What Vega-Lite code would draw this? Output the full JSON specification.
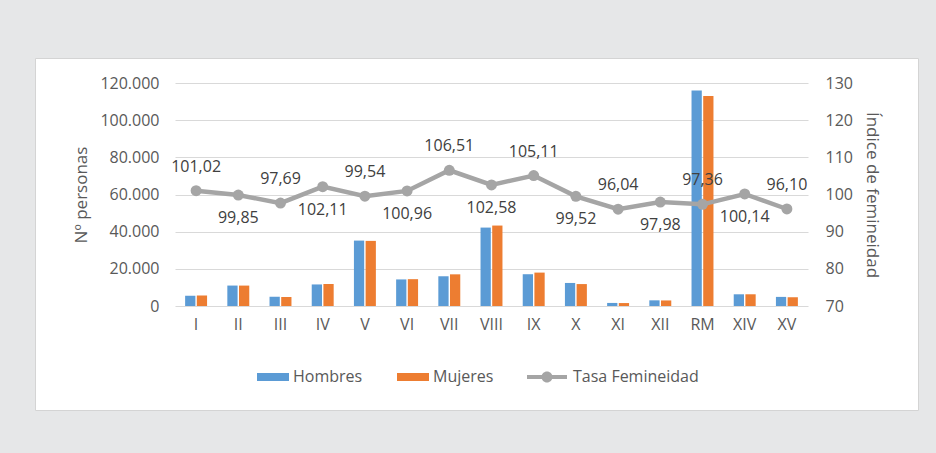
{
  "$schema": "https://vega.github.io/schema/vega-lite/v6.json",
  "width": 883,
  "height": 352,
  "autosize": {"type": "none"},
  "padding": {"left": 35, "top": 58, "right": 18, "bottom": 43},
  "background": "#e6e7e8",
  "config": {
    "locale": {"number": {"decimal": ",", "thousands": ".", "grouping": [3], "currency": ["", " €"]}},
    "view": {"fill": "white", "stroke": "#d4d4d4", "strokeWidth": 1},
    "font": "Open Sans",
    "axis": {
      "labelFont": "Open Sans", "labelFontSize": 16, "labelColor": "#595959",
      "titleFont": "Open Sans", "titleFontSize": 17, "titleFontWeight": "normal", "titleColor": "#595959",
      "ticks": false, "domain": false, "gridColor": "#d9d9d9", "gridWidth": 1
    },
    "legend": {"labelFont": "Open Sans", "labelFontSize": 16, "labelColor": "#595959"}
  },
  "data": {
    "values": [
      {"region": "I", "Hombres": 5550, "Mujeres": 5607, "tasa": 101.02},
      {"region": "II", "Hombres": 11000, "Mujeres": 10984, "tasa": 99.85},
      {"region": "III", "Hombres": 4950, "Mujeres": 4836, "tasa": 97.69},
      {"region": "IV", "Hombres": 11600, "Mujeres": 11845, "tasa": 102.11},
      {"region": "V", "Hombres": 35200, "Mujeres": 35038, "tasa": 99.54},
      {"region": "VI", "Hombres": 14300, "Mujeres": 14437, "tasa": 100.96},
      {"region": "VII", "Hombres": 16000, "Mujeres": 17042, "tasa": 106.51},
      {"region": "VIII", "Hombres": 42200, "Mujeres": 43289, "tasa": 102.58},
      {"region": "IX", "Hombres": 17100, "Mujeres": 17974, "tasa": 105.11},
      {"region": "X", "Hombres": 12400, "Mujeres": 11800, "tasa": 99.52},
      {"region": "XI", "Hombres": 1650, "Mujeres": 1585, "tasa": 96.04},
      {"region": "XII", "Hombres": 3050, "Mujeres": 2988, "tasa": 97.98},
      {"region": "RM", "Hombres": 116000, "Mujeres": 112938, "tasa": 97.36},
      {"region": "XIV", "Hombres": 6300, "Mujeres": 6309, "tasa": 100.14},
      {"region": "XV", "Hombres": 4900, "Mujeres": 4709, "tasa": 96.10}
    ]
  },
  "layer": [
    {
      "transform": [{"fold": ["Hombres", "Mujeres"], "as": ["sexo", "personas"]}],
      "mark": {"type": "bar"},
      "encoding": {
        "x": {
          "field": "region", "type": "nominal", "sort": null,
          "scale": {"range": [140, 773], "paddingInner": 0.48, "paddingOuter": 0.24},
          "axis": {"title": null, "labelAngle": 0, "offset": -104, "labelPadding": 10, "grid": false}
        },
        "xOffset": {"field": "sexo", "type": "nominal", "scale": {"paddingInner": 0.12}},
        "y": {
          "field": "personas", "type": "quantitative",
          "scale": {"domain": [0, 120000], "range": [248, 25], "nice": false},
          "axis": {
            "title": "Nº personas", "format": ",.0f",
            "values": [0, 20000, 40000, 60000, 80000, 100000, 120000],
            "offset": -140, "labelPadding": 16, "titlePadding": 9, "grid": true
          }
        },
        "color": {
          "field": "sexo", "type": "nominal",
          "scale": {"domain": ["Hombres", "Mujeres"], "range": ["#5b9bd5", "#ed7d31"]},
          "legend": {
            "title": null, "orient": "none", "legendX": 228, "legendY": 309,
            "direction": "horizontal",
            "symbolType": "M-1.6,-0.4H1.6V0.4H-1.6Z", "symbolSize": 400,
            "symbolStrokeWidth": 0, "labelOffset": 10, "columnPadding": 34
          }
        }
      }
    },
    {
      "layer": [
        {
          "mark": {"type": "line", "strokeWidth": 4.5},
          "encoding": {
            "x": {"field": "region", "type": "nominal", "sort": null},
            "y": {
              "field": "tasa", "type": "quantitative",
              "scale": {"domain": [70, 130], "range": [248, 25], "nice": false, "zero": false},
              "axis": {
                "orient": "right", "title": "Índice de femineidad",
                "values": [70, 80, 90, 100, 110, 120, 130], "format": "d",
                "offset": -110, "labelPadding": 17, "titlePadding": 10, "grid": false
              }
            },
            "stroke": {
              "datum": "Tasa Femineidad", "type": "nominal",
              "scale": {"range": ["#a5a5a5"]},
              "legend": {
                "title": null, "orient": "none", "legendX": 502, "legendY": 309,
                "symbolType": "M-2,-0.2H2V0.2H-2Z M-0.55,0A0.55,0.55 0 1,1 0.55,0A0.55,0.55 0 1,1 -0.55,0Z",
                "symbolSize": 400, "symbolFillColor": "#a5a5a5", "symbolStrokeWidth": 0,
                "labelOffset": 16,
                "encode": {"symbols": {"update": {"fill": {"value": "#a5a5a5"}, "strokeWidth": {"value": 0}}}}
              }
            }
          }
        },
        {
          "mark": {"type": "point", "filled": true, "size": 120, "opacity": 1, "color": "#a5a5a5"},
          "encoding": {
            "x": {"field": "region", "type": "nominal", "sort": null},
            "y": {"field": "tasa", "type": "quantitative"}
          }
        },
        {
          "transform": [{"filter": {"field": "region", "oneOf": ["I", "III", "V", "VII", "IX", "XI", "RM", "XV"]}}],
          "mark": {"type": "text", "dy": -24, "fontSize": 16, "color": "#404040", "font": "Open Sans"},
          "encoding": {
            "x": {"field": "region", "type": "nominal", "sort": null},
            "y": {"field": "tasa", "type": "quantitative"},
            "text": {"field": "tasa", "type": "quantitative", "format": ".2f"}
          }
        },
        {
          "transform": [{"filter": {"field": "region", "oneOf": ["II", "IV", "VI", "VIII", "X", "XII", "XIV"]}}],
          "mark": {"type": "text", "dy": 23, "fontSize": 16, "color": "#404040", "font": "Open Sans"},
          "encoding": {
            "x": {"field": "region", "type": "nominal", "sort": null},
            "y": {"field": "tasa", "type": "quantitative"},
            "text": {"field": "tasa", "type": "quantitative", "format": ".2f"}
          }
        }
      ]
    }
  ],
  "resolve": {"scale": {"y": "independent"}}
}
